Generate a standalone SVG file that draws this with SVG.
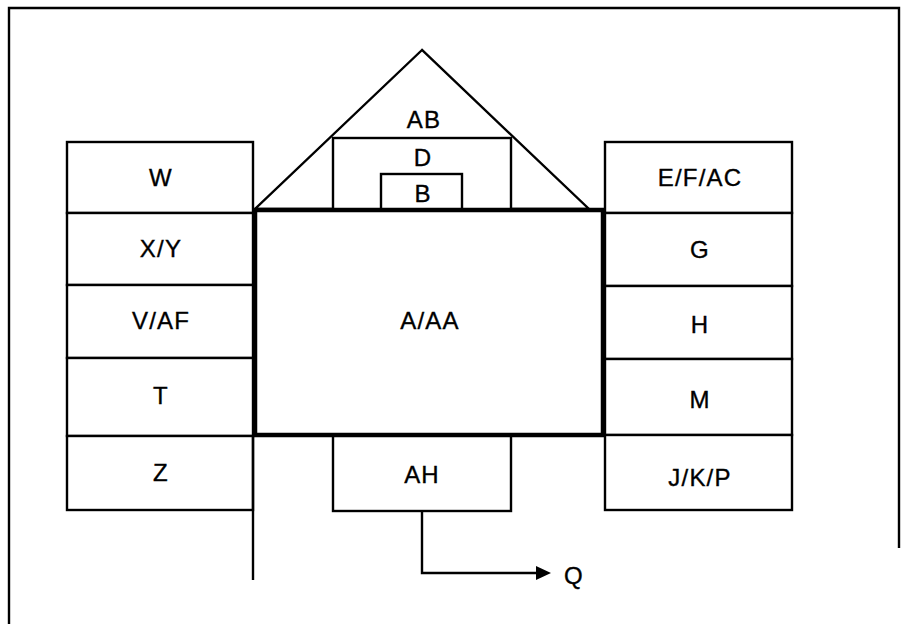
<svg xmlns="http://www.w3.org/2000/svg" width="909" height="624" viewBox="0 0 909 624">
<style>
.box{fill:#fff;stroke:#000;stroke-width:2.4}
.thick{fill:none;stroke:#000;stroke-width:4.5}
.ln{fill:none;stroke:#000;stroke-width:2.4}
text{font-family:"Liberation Sans",Arial,sans-serif;font-size:24px;fill:#000;stroke:#000;stroke-width:0.35;text-anchor:middle;letter-spacing:1.2px}
</style>
<rect width="909" height="624" fill="#fff"/>
<path class="ln" d="M9 624 V8 H899 V548"/>
<g id="roof">
<polygon class="ln" points="422,50 255,209 589,209"/>
<text x="424" y="128">AB</text>
</g>
<g id="D">
<rect class="box" x="333" y="138" width="178" height="72"/>
<text x="423" y="166">D</text>
</g>
<g id="B">
<rect class="box" x="381" y="174" width="81" height="36"/>
<text x="423" y="202">B</text>
</g>
<g id="W"><rect class="box" x="67" y="142" width="186" height="71"/><text x="161" y="186">W</text></g>
<g id="XY"><rect class="box" x="67" y="213" width="186" height="72"/><text x="161" y="257">X/Y</text></g>
<g id="VAF"><rect class="box" x="67" y="285" width="186" height="73"/><text x="161" y="329">V/AF</text></g>
<g id="T"><rect class="box" x="67" y="358" width="186" height="78"/><text x="161" y="404">T</text></g>
<g id="Z"><rect class="box" x="67" y="436" width="186" height="74"/><text x="161" y="481">Z</text></g>
<g id="EFAC"><rect class="box" x="605" y="142" width="187" height="71"/><text x="700" y="186">E/F/AC</text></g>
<g id="G"><rect class="box" x="605" y="213" width="187" height="73"/><text x="700" y="258">G</text></g>
<g id="H"><rect class="box" x="605" y="286" width="187" height="73"/><text x="700" y="333">H</text></g>
<g id="M"><rect class="box" x="605" y="359" width="187" height="76"/><text x="700" y="408">M</text></g>
<g id="JKP"><rect class="box" x="605" y="435" width="187" height="75"/><text x="700" y="486">J/K/P</text></g>
<g id="AH"><rect class="box" x="333" y="435" width="178" height="76"/><text x="422" y="483">AH</text></g>
<g id="AAA"><rect class="thick" x="255" y="210" width="348" height="225"/><text x="430" y="329">A/AA</text></g>
<g id="connectors">
<line class="ln" x1="253" y1="436" x2="253" y2="580"/>
<path class="ln" d="M422 511 V573 H538"/>
<polygon points="536,566 551,573 536,580" fill="#000"/>
</g>
<g id="Q"><text x="574" y="584">Q</text></g>
</svg>
